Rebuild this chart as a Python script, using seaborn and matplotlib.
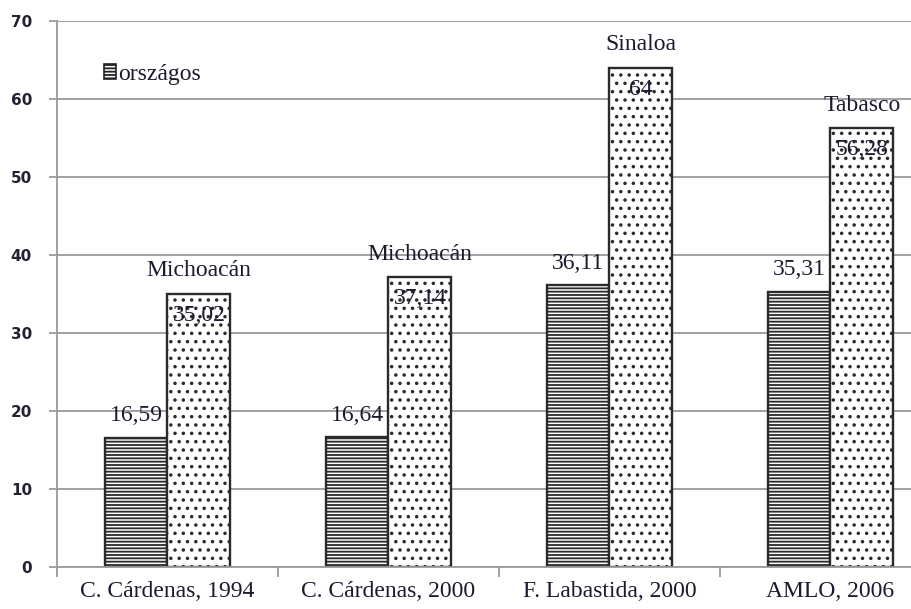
import matplotlib
matplotlib.use("Agg")
import matplotlib.pyplot as plt
from matplotlib.patches import Patch
import seaborn as sns
import pandas as pd

categories = ["C. Cárdenas, 1994", "C. Cárdenas, 2000", "F. Labastida, 2000", "AMLO, 2006"]
national = [16.59, 16.64, 36.11, 35.31]
home_state = [35.02, 37.14, 64, 56.28]
state_names = ["Michoacán", "Michoacán", "Sinaloa", "Tabasco"]
national_labels = ["16,59", "16,64", "36,11", "35,31"]
state_labels = ["35,02", "37,14", "64", "56,28"]
series_names = ["országos", "állam"]
y_ticks = [0, 10, 20, 30, 40, 50, 60, 70]

sns.set_style("white")
plt.rcParams["font.family"] = ["Liberation Serif", "DejaVu Serif"]
plt.rcParams["hatch.linewidth"] = 1.3
plt.rcParams["hatch.color"] = "black"

df = pd.DataFrame({
    "cat": categories * 2,
    "series": [series_names[0]] * 4 + [series_names[1]] * 4,
    "value": national + home_state,
})

fig = plt.figure(figsize=(9.12, 6.09), dpi=100)
ax = fig.add_axes([57 / 912, 1 - 567 / 609, 1 - 57 / 912, (567 - 21) / 609])

sns.barplot(data=df, x="cat", y="value", hue="series", hue_order=series_names,
            palette=["white", "white"], width=0.57, ax=ax, legend=False,
            saturation=1, errorbar=None)

hatches = ["-----", ".."]
for cont, h in zip(ax.containers, hatches):
    for bar in cont:
        bar.set_hatch(h)
        bar.set_edgecolor("#2a2a2a")
        bar.set_linewidth(1.7)
        bar.set_facecolor("white")

txt_color = "#1b1b2e"
fs = 17
for i, bar in enumerate(ax.containers[0]):
    x = bar.get_x() + bar.get_width() / 2
    top = bar.get_height()
    ax.annotate(national_labels[i], (x, top), xytext=(0, 8), textcoords="offset points",
                ha="center", va="bottom", fontsize=fs, color=txt_color)
for i, bar in enumerate(ax.containers[1]):
    x = bar.get_x() + bar.get_width() / 2
    top = bar.get_height()
    ax.annotate(state_labels[i], (x, top), xytext=(0, -8), textcoords="offset points",
                ha="center", va="top", fontsize=fs, color=txt_color)
    ax.annotate(state_names[i], (x, top), xytext=(0, 9), textcoords="offset points",
                ha="center", va="bottom", fontsize=fs, color=txt_color)

ax.set_yticks(y_ticks)
ax.set_yticklabels([str(t) for t in y_ticks], family="DejaVu Sans", fontweight="bold",
                   fontsize=11, color="#222233")
ax.yaxis.grid(True, color="#9a9a9a", linewidth=1.3)
ax.set_axisbelow(True)
ax.set_xlabel("")
ax.set_ylabel("")
ax.set_xticks(range(len(categories)))
ax.set_xticklabels(categories, fontsize=fs, color=txt_color)
ax.set_xticks([-0.5, 0.5, 1.5, 2.5, 3.5], minor=True)
ax.tick_params(axis="x", which="major", length=0, pad=10, bottom=True)
ax.tick_params(axis="x", which="minor", length=7, width=1.3, color="#9a9a9a",
               direction="out", bottom=True)
ax.tick_params(axis="y", length=6, width=1.3, color="#9a9a9a", direction="out", left=True, pad=12)
ax.set_ylim(0, 70)
ax.set_xlim(-0.5, 3.5 - 29 / 221)

for s in ["top", "right"]:
    ax.spines[s].set_visible(False)
for s in ["left", "bottom"]:
    ax.spines[s].set_color("#9a9a9a")
    ax.spines[s].set_linewidth(1.3)

handle = Patch(facecolor="white", edgecolor="#222222", hatch="-----", linewidth=1.2)
ax.legend([handle], [series_names[0]], loc="upper left", bbox_to_anchor=(92 / 912, 1 - 52 / 609),
          bbox_transform=fig.transFigure, frameon=False, fontsize=fs, handlelength=0.5,
          handleheight=0.6, handletextpad=0.1, borderpad=0, labelcolor=txt_color)

fig.savefig("out.png", dpi=100)
